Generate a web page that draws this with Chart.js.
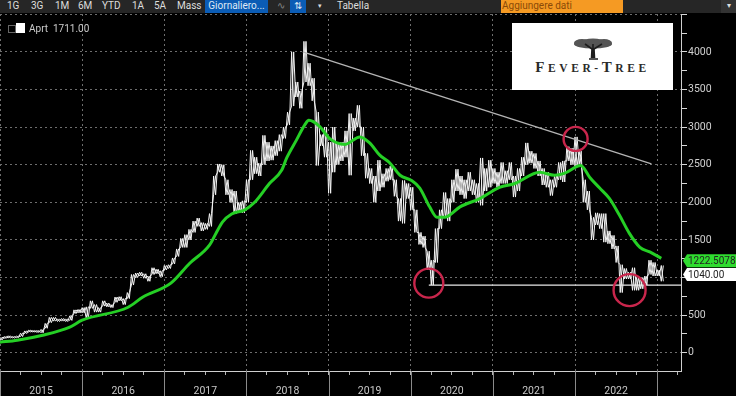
<!DOCTYPE html>
<html><head><meta charset="utf-8">
<script src="https://cdn.jsdelivr.net/npm/chart.js@4/dist/chart.umd.min.js"></script>
<style>
html,body{margin:0;padding:0;background:#000;overflow:hidden}
#wrap{position:relative;width:736px;height:396px;background:#000;font-family:Roboto,sans-serif}
canvas{position:absolute;left:0;top:0}
#bar{position:absolute;left:0;top:0;width:736px;height:13px;background:#262626;z-index:2}
#bar span{position:absolute;top:0;height:13px;line-height:12px;font-size:10px;color:#ddd;white-space:nowrap}
#bar .on{background:#0b5cb5;color:#dfe9f5;text-align:center}
#bar .add{background:#f59a23;color:#8a4a08;padding-left:1px}
#legend{position:absolute;left:8px;top:23px;height:11px;z-index:2;font-size:10px;line-height:11px;color:#ccc}
#legend i{position:absolute;top:0;display:block}
#logo{position:absolute;left:512px;top:23px;width:161px;height:67px;background:#fff;z-index:2}
#logo svg{position:absolute;left:60px;top:15px}
#logo div{position:absolute;left:0;width:161px;top:36px;text-align:center;font-family:"Liberation Serif",serif;font-weight:bold;color:#2a2a2a;font-size:11.5px;letter-spacing:3.6px;white-space:nowrap;line-height:16px}
#logo b{font-size:15px}
</style></head>
<body>
<div id="wrap">
<canvas id="c" width="736" height="396"></canvas>
<div id="bar">
<span style="left:7px">1G</span><span style="left:31px">3G</span><span style="left:55px">1M</span><span style="left:78px">6M</span><span style="left:102px">YTD</span><span style="left:132px">1A</span><span style="left:154px">5A</span><span style="left:177px">Mass</span>
<span class="on" style="left:205px;width:63px">Giornaliero...</span>
<span style="left:277px;color:#888">&#8767;</span>
<span class="on" style="left:290px;width:16px">&#8645;</span>
<span style="left:318px;font-size:7px">&#9662;</span>
<span style="left:337px">Tabella</span>
<span class="add" style="left:501px;width:121px">Aggiungere dati</span>
<span style="left:721px;width:15px;background:#333;text-align:center;font-size:8px">&#9662;</span>
</div>
<div id="legend">
<i style="left:0;top:2px;width:6px;height:6px;border:1px solid #666"></i>
<i style="left:8px;width:9px;height:10px;background:#fff"></i>
<span style="position:absolute;left:21px;white-space:nowrap">Aprt&nbsp; 1711.00</span>
</div>
<div id="logo">
<svg width="42" height="22" viewBox="0 0 42 22">
<g fill="#555"><ellipse cx="21" cy="6" rx="19" ry="4.5"/><ellipse cx="10" cy="5" rx="8" ry="4"/><ellipse cx="32" cy="5" rx="8" ry="4"/><ellipse cx="21" cy="3.5" rx="11" ry="3"/></g>
<path d="M19.5 20 L20 11 L13 6 M21 20 L21 6 M22.5 20 L22 11 L30 6 M17 21 L26 21" stroke="#1d1d1d" stroke-width="1.6" fill="none"/>
</svg>
<div><b>F</b>EVER-<b>T</b>REE</div>
</div>
</div>
<script>
// Price range samples, one every 0.05 year starting at 2015
const priceStart = 2015;
const priceStep = 0.05;
const priceLow = [170,190,195,195,200,215,255,275,275,270,265,325,400,420,415,420,415,430,520,530,
530,460,590,540,540,620,610,600,670,690,640,720,900,1000,1020,990,950,1040,1050,1010,
1100,1120,1180,1280,1400,1400,1500,1600,1680,1620,1640,1680,2100,2400,2350,2100,2000,1850,1870,1860,
2000,2300,2380,2350,2500,2550,2560,2620,2680,2850,3030,3280,3400,3250,3600,3550,3350,2490,2750,2600,
2120,2400,2500,2550,2600,2360,2950,3000,2620,2320,2250,2000,2150,2200,2280,2300,2080,1750,1720,2050,
1900,1600,1440,1400,1100,900,1200,1650,1800,1750,2000,2150,2100,2050,2150,2100,2000,1960,2150,2200,
2250,2200,2250,2250,2300,2070,2150,2350,2500,2520,2450,2350,2230,2200,2090,2200,2300,2270,2550,2500,
2480,2500,2000,1900,1500,1700,1650,1470,1450,1380,1200,800,980,980,830,830,850,900,1040,1020,1020,950];
const priceHigh = [205,215,225,215,220,260,290,300,295,295,310,390,470,470,450,455,450,490,570,575,
600,610,690,640,600,690,660,640,740,745,720,800,1040,1060,1070,1050,1020,1130,1110,1090,
1160,1170,1260,1380,1520,1570,1640,1750,1790,1730,1720,1850,2350,2510,2500,2300,2170,2150,2000,2020,
2300,2690,2600,2520,2890,2800,2750,2820,2900,3000,3200,4000,3600,3480,4140,3850,3650,3200,2900,3000,
2800,3000,2780,2800,2950,3180,3120,3290,3000,2650,2450,2350,2560,2380,2450,2480,2300,2050,2290,2250,
2200,1900,1600,1550,1350,1230,1650,1900,2130,2050,2300,2440,2350,2300,2400,2300,2250,2590,2450,2560,
2450,2400,2530,2420,2530,2350,2450,2600,2790,2680,2650,2550,2450,2400,2300,2350,2530,2550,2740,2720,
2870,2680,2300,2150,1800,1860,1850,1850,1620,1560,1420,1170,1120,1070,1130,1000,1000,1020,1230,1200,1100,1160];
// Moving average
const maYears = [2015,2015.21,2015.52,2015.85,2016,2016.56,2016.74,2017.08,2017.31,2017.55,2017.63,2017.71,2017.82,2017.98,2018.10,2018.28,2018.43,2018.49,2018.61,2018.71,2018.76,2018.89,2019.01,2019.20,2019.38,2019.50,2019.62,2019.74,2019.87,2020.01,2020.11,2020.23,2020.32,2020.41,2020.60,2020.84,2021.08,2021.27,2021.57,2021.75,2021.87,2022.07,2022.18,2022.30,2022.42,2022.54,2022.66,2022.79,2022.91,2023.05];
const maValues = [140,166,232,340,432,605,740,925,1190,1430,1590,1740,1845,1900,2000,2250,2430,2590,2830,3030,3090,3010,2850,2770,2870,2790,2630,2530,2360,2290,2190,1940,1800,1800,1940,2050,2200,2250,2400,2360,2385,2490,2330,2190,2050,1830,1590,1400,1340,1255];
// Drawn annotations
const trendYears = [2018.686,2022.93];
const trendValues = [4000,2510];
const supportYears = [2020.22,2023.29];
const supportValues = [900,900];
const circleYears = [2020.22,2022.007,2022.664];
const circleValues = [925,2843,832];
const flagValues = [1222.5078,1040];
const flagLabels = ['1222.5078','1040.00'];
// Axes
const yTicks = [0,250,500,750,1000,1250,1500,1750,2000,2250,2500,2750,3000,3250,3500,3750,4000,4250,4500];
const yearLabels = [2015,2016,2017,2018,2019,2020,2021,2022];
const axisYears = [2015,2016,2017,2018,2019,2020,2021,2022,2023];

// Two interleaved zigzags between each sample's low and high give the dense bar-chart texture
const pricePts = [], pricePtsB = [];
priceLow.forEach((lo,i)=>{
  const t = priceStart + i*priceStep;
  pricePts.push({x:t,y:lo},{x:t+priceStep/2,y:priceHigh[i]});
  pricePtsB.push({x:t,y:priceHigh[i]},{x:t+priceStep/2,y:lo});
});
const zip = (a,b)=>a.map((x,i)=>({x,y:b[i]}));
const quarterTicks = [];
axisYears.forEach(y=>[0,.25,.5,.75].forEach(q=>quarterTicks.push(y+q)));

const overlays = {
  id:'overlays',
  afterDraw(chart){
    const {ctx,scales:{x,y},chartArea:a} = chart;
    ctx.save();
    ctx.strokeStyle='#8a8a8a';ctx.lineWidth=1;
    axisYears.forEach(v=>{
      const p=Math.round(x.getPixelForValue(v))+.5;
      ctx.beginPath();ctx.moveTo(p,a.bottom);ctx.lineTo(p,396);ctx.stroke();
    });
    const fills=['#2fdc2f','#ffffff'];
    flagValues.forEach((v,i)=>{
      const p=y.getPixelForValue(v),l=a.right+2,r=736,h=6.5;
      ctx.fillStyle=fills[i];
      ctx.beginPath();ctx.moveTo(l,p);ctx.lineTo(l+4,p-h);ctx.lineTo(r,p-h);ctx.lineTo(r,p+h);ctx.lineTo(l+4,p+h);ctx.closePath();ctx.fill();
      ctx.fillStyle='#222';ctx.font='10px Roboto';ctx.textBaseline='middle';ctx.textAlign='left';
      ctx.fillText(flagLabels[i],l+5,p+.5);
    });
    ctx.restore();
  }
};

new Chart(document.getElementById('c'),{
  type:'line',
  plugins:[overlays],
  data:{datasets:[
    {label:'Circles',data:zip(circleYears,circleValues),showLine:false,order:0,pointStyle:'circle',
     pointRadius:[14.5,12,16],pointBorderWidth:2.4,pointBorderColor:'#c9264c',pointBackgroundColor:'rgba(0,0,0,0)'},
    {label:'MA',data:zip(maYears,maValues),order:1,borderColor:'#25cf25',borderWidth:3,pointRadius:0,cubicInterpolationMode:'monotone'},
    {label:'Trend',data:zip(trendYears,trendValues),order:2,borderColor:'#b5b5b5',borderWidth:1.3,pointRadius:0},
    {label:'Support',data:zip(supportYears,supportValues),order:2,borderColor:'#e8e8e8',borderWidth:1.3,pointRadius:0},
    {label:'Aprt',data:pricePts,order:3,borderColor:'#f4f4f4',borderWidth:1,pointRadius:0,tension:0},
    {label:'Aprt range',data:pricePtsB,order:3,borderColor:'#f4f4f4',borderWidth:1,pointRadius:0,tension:0}
  ]},
  options:{
    responsive:false,animation:false,events:[],
    layout:{autoPadding:false,padding:{top:14,left:0,right:0,bottom:0}},
    plugins:{legend:{display:false},tooltip:{enabled:false}},
    scales:{
      x:{type:'linear',min:2015,max:2023.29,
        afterBuildTicks(s){s.ticks=quarterTicks.filter(v=>v<=2023.29).map(value=>({value}));},
        afterFit(s){s.height=25;s.paddingLeft=0;s.paddingRight=0;},
        border:{color:'#cfcfcf',width:1,dash:[2,3]},
        grid:{color:c=>Number.isInteger(c.tick&&c.tick.value)?'#6e6e6e':'rgba(0,0,0,0)',
              tickColor:'#b5b5b5',tickLength:4,drawOnChartArea:true},
        ticks:{autoSkip:false,maxRotation:0,minRotation:0,padding:10,color:'#c8c8c8',font:{family:'Roboto',size:10.5},
          callback(v){const f=v-Math.floor(v);return (f===.5&&yearLabels.includes(Math.floor(v)))?String(Math.floor(v)):'';}}
      },
      y:{type:'linear',position:'right',min:-243,max:4504,
        afterBuildTicks(s){s.ticks=yTicks.map(value=>({value}));},
        afterFit(s){s.width=55;s.paddingTop=0;s.paddingBottom=0;},
        border:{color:'#cfcfcf',width:1,dash:[2,3]},
        grid:{color:c=>(c.tick&&c.tick.value%500===0)?'#6e6e6e':'rgba(0,0,0,0)',
              tickColor:'#d8d8d8',tickLength:6},
        ticks:{autoSkip:false,padding:1,color:'#d0d0d0',font:{family:'Roboto',size:10.5},
          callback(v){return (v%500===0&&v<=4000)?String(v):'';}}
      }
    }
  }
});
</script>
</body></html>
